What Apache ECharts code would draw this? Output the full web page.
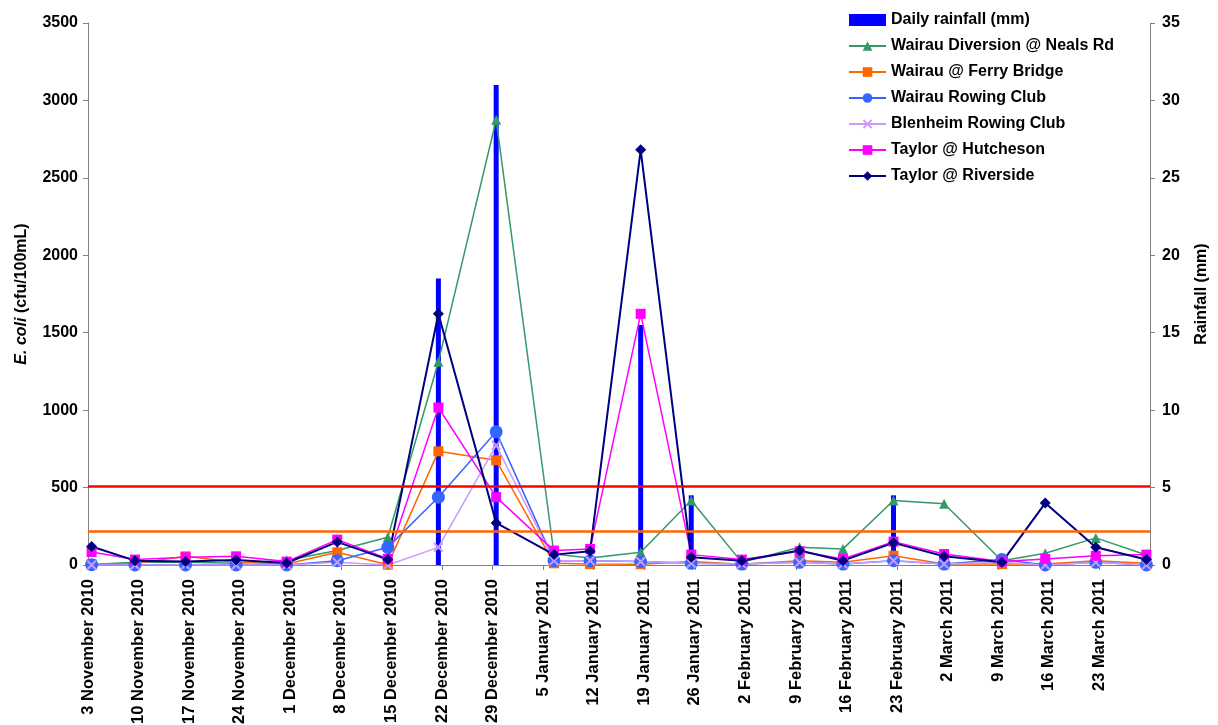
<!DOCTYPE html>
<html>
<head>
<meta charset="utf-8">
<script src="https://cdn.jsdelivr.net/npm/echarts@6/dist/echarts.min.js"></script>
<style>
  html, body { margin: 0; padding: 0; background: #fff; }
  #chart { width: 1218px; height: 725px; }
</style>
</head>
<body>
<div id="chart"></div>
<script>
// Weekly tick labels along the date axis (one every 7 days from 3 Nov 2010)
const tickLabels = [
  '3 November 2010', '10 November 2010', '17 November 2010', '24 November 2010',
  '1 December 2010', '8 December 2010', '15 December 2010', '22 December 2010',
  '29 December 2010', '5 January 2011', '12 January 2011', '19 January 2011',
  '26 January 2011', '2 February 2011', '9 February 2011', '16 February 2011',
  '23 February 2011', '2 March 2011', '9 March 2011', '16 March 2011', '23 March 2011'
];

// Sampling dates for the E. coli monitoring sites
const sampleDates = [
  '2010-11-03', '2010-11-09', '2010-11-16', '2010-11-23', '2010-11-30',
  '2010-12-07', '2010-12-14', '2010-12-21', '2010-12-29', '2011-01-06',
  '2011-01-11', '2011-01-18', '2011-01-25', '2011-02-01', '2011-02-09',
  '2011-02-15', '2011-02-22', '2011-03-01', '2011-03-09', '2011-03-15',
  '2011-03-22', '2011-03-29'
];

// E. coli (cfu/100mL) per site
const wairauDiversion = [4, 17, 17, 11, 30, 93, 179, 1312, 2875, 71, 45, 82, 417, 17, 114, 104, 417, 395, 28, 76, 175, 65];
const ferryBridge     = [5, 10, 56, 17, 6, 82, 1, 734, 676, 11, 6, 5, 22, 5, 28, 17, 60, 6, 6, 6, 28, 11];
const wairauRowing    = [2, 0, 0, 0, 0, 28, 114, 438, 860, 28, 28, 22, 11, 6, 17, 6, 28, 6, 35, 0, 17, 0];
const blenheimRowing  = [0, 0, 0, 0, 0, 17, 0, 114, 773, 28, 28, 22, 11, 6, 17, 6, 28, 6, 17, 0, 17, 0];
const taylorHutcheson = [84, 35, 50, 56, 22, 164, 40, 1017, 438, 93, 104, 1622, 67, 35, 89, 39, 151, 71, 22, 39, 60, 67];
const taylorRiverside = [119, 28, 22, 32, 13, 149, 35, 1622, 272, 67, 89, 2681, 50, 28, 93, 28, 143, 56, 17, 400, 114, 35];

// Daily rainfall (mm)
const rainDates = ['2010-12-21', '2010-12-29', '2011-01-18', '2011-01-25', '2011-02-22'];
const rainfall  = [18.5, 31.0, 15.5, 4.5, 4.5];

// Guideline levels (cfu/100mL)
const actionLevel = 508;
const alertLevel = 216;

const startDate = '2010-11-03';
const DAY = 86400000;
// days since the first sampling date, taking samples at midday
function dayOffset(s) {
  const [y, m, d] = s.split('-').map(Number);
  const [y0, m0, d0] = startDate.split('-').map(Number);
  return (Date.UTC(y, m - 1, d, 12) - Date.UTC(y0, m0 - 1, d0)) / DAY;
}
function pairs(dates, vals) {
  return dates.map((d, i) => [dayOffset(d), vals[i]]);
}

const FONT = "'Liberation Sans', Arial, sans-serif";
const xMark = 'path://M0,1.4 L1.4,0 L5,3.6 L8.6,0 L10,1.4 L6.4,5 L10,8.6 L8.6,10 L5,6.4 L1.4,10 L0,8.6 L3.6,5 Z';
const plain = v => String(v);

function siteSeries(name, values, color, symbol, size, width) {
  return {
    name: name,
    type: 'line',
    yAxisIndex: 0,
    data: pairs(sampleDates, values),
    symbol: symbol,
    symbolSize: size,
    showAllSymbol: true,
    itemStyle: { color: color },
    lineStyle: { color: color, width: width },
    z: 3
  };
}

const chart = echarts.init(document.getElementById('chart'), null, { renderer: 'canvas' });

chart.setOption({
  animation: false,
  backgroundColor: '#ffffff',
  textStyle: { fontFamily: FONT },
  grid: { left: 88, right: 68, top: 23, bottom: 160, containLabel: false, outerBoundsMode: 'none' },
  legend: {
    orient: 'vertical',
    left: 843,
    top: 7,
    itemWidth: 37,
    itemHeight: 12,
    itemGap: 10,
    textStyle: { fontFamily: FONT, fontWeight: 'bold', fontSize: 16, color: '#000', lineHeight: 16 },
    data: [
      { name: 'Daily rainfall (mm)', icon: 'rect' },
      'Wairau Diversion @ Neals Rd',
      'Wairau @ Ferry Bridge',
      'Wairau Rowing Club',
      'Blenheim Rowing Club',
      'Taylor @ Hutcheson',
      'Taylor @ Riverside'
    ]
  },
  xAxis: {
    type: 'value',
    min: 0,
    max: 147,
    interval: 7,
    axisLine: { lineStyle: { color: '#808080', width: 1 } },
    axisTick: { show: true, length: 5, lineStyle: { color: '#808080' } },
    splitLine: { show: false },
    axisLabel: {
      rotate: 90,
      margin: 14,
      fontFamily: FONT,
      fontWeight: 'bold',
      fontSize: 16.5,
      color: '#000',
      showMaxLabel: true,
      formatter: function (v) {
        const i = Math.round(v / 7);
        return tickLabels[i] || '';
      }
    }
  },
  yAxis: [
    {
      type: 'value',
      min: 0,
      max: 3500,
      interval: 500,
      position: 'left',
      name: '{i|E. coli} (cfu/100mL)',
      nameLocation: 'middle',
      nameRotate: 90,
      nameGap: 58,
      nameTextStyle: {
        fontFamily: FONT,
        fontWeight: 'bold',
        fontSize: 16,
        color: '#000',
        rich: { i: { fontFamily: FONT, fontWeight: 'bold', fontStyle: 'italic', fontSize: 16, color: '#000' } }
      },
      axisLine: { show: true, lineStyle: { color: '#808080', width: 1 } },
      axisTick: { show: true, length: 5, lineStyle: { color: '#808080' } },
      splitLine: { show: false },
      axisLabel: { margin: 10, fontFamily: FONT, fontWeight: 'bold', fontSize: 16, color: '#000', formatter: plain }
    },
    {
      type: 'value',
      min: 0,
      max: 35,
      interval: 5,
      position: 'right',
      name: 'Rainfall (mm)',
      nameLocation: 'middle',
      nameRotate: 90,
      nameGap: 44,
      nameTextStyle: { fontFamily: FONT, fontWeight: 'bold', fontSize: 16, color: '#000' },
      axisLine: { show: true, lineStyle: { color: '#808080', width: 1 } },
      axisTick: { show: true, length: 5, lineStyle: { color: '#808080' } },
      splitLine: { show: false },
      axisLabel: { margin: 12, fontFamily: FONT, fontWeight: 'bold', fontSize: 16, color: '#000', formatter: plain }
    }
  ],
  series: [
    {
      name: 'Daily rainfall (mm)',
      type: 'bar',
      yAxisIndex: 1,
      data: pairs(rainDates, rainfall),
      barWidth: 5,
      itemStyle: { color: '#0000FF' },
      z: 2
    },
    {
      name: 'Guidelines',
      type: 'line',
      yAxisIndex: 0,
      data: [],
      silent: true,
      markLine: {
        silent: true,
        symbol: 'none',
        label: { show: false },
        data: [
          { yAxis: actionLevel, lineStyle: { color: '#FF0000', width: 2.5, type: 'solid' } },
          { yAxis: alertLevel, lineStyle: { color: '#FF6600', width: 2.5, type: 'solid' } }
        ]
      },
      z: 1
    },
    siteSeries('Wairau Diversion @ Neals Rd', wairauDiversion, '#339966', 'triangle', 10, 1.5),
    siteSeries('Wairau @ Ferry Bridge', ferryBridge, '#FF6600', 'rect', 10, 1.5),
    siteSeries('Wairau Rowing Club', wairauRowing, '#3366FF', 'circle', 13, 1.5),
    siteSeries('Blenheim Rowing Club', blenheimRowing, '#CC99FF', xMark, 10, 1.5),
    siteSeries('Taylor @ Hutcheson', taylorHutcheson, '#FF00FF', 'rect', 10, 1.5),
    siteSeries('Taylor @ Riverside', taylorRiverside, '#000080', 'diamond', 11, 2)
  ]
});
</script>
</body>
</html>
